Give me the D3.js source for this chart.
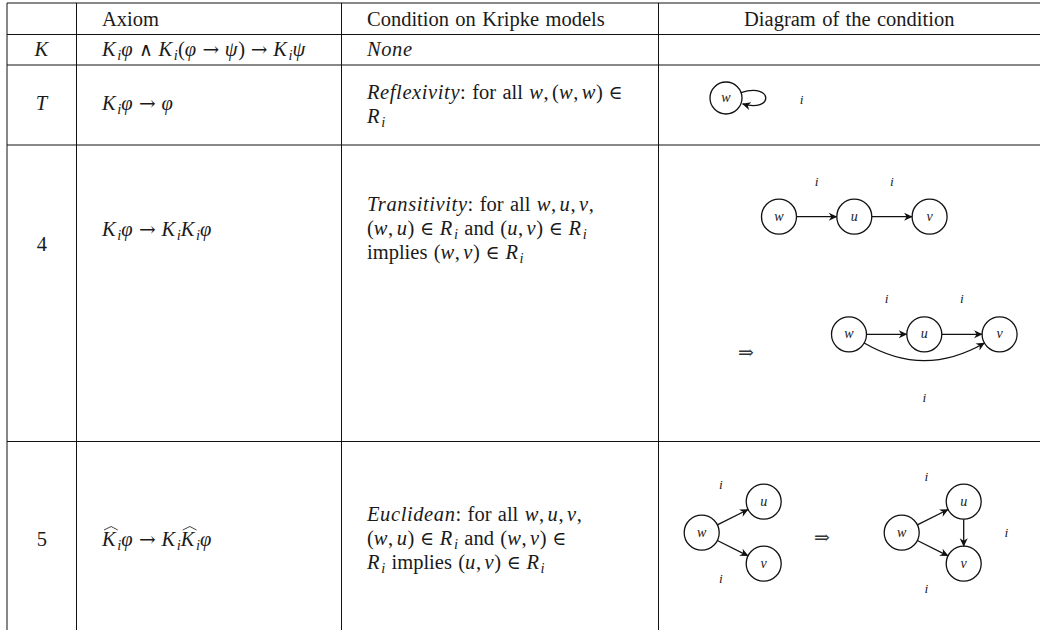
<!DOCTYPE html>
<html>
<head>
<meta charset="utf-8">
<script src="https://cdn.jsdelivr.net/npm/d3@7"></script>
<style>
body { margin: 0; background: #fff; }
svg text { font-family: "Liberation Serif", "DejaVu Serif", serif; fill: #1a1a1a; }
</style>
</head>
<body>
<svg id="c"></svg>
<script>
// table content
var headers = ["", "Axiom", "Condition on Kripke models", "Diagram of the condition"];
var rowLabels = ["K", "T", "4", "5"];
var axioms = [
	"$K_iφ ∧ K_i(φ → ψ) → K_iψ$",
	"$K_iφ → φ$",
	"$K_iφ → K_iK_iφ$",
	"$^K_iφ → K_i^K_iφ$"
];
var conditions = [
	["$None$"],
	["$Reflexivity$: for all $w, (w, w) ∈$", "$R_i$"],
	["$Transitivity$: for all $w, u, v,$", "$(w, u) ∈ R_i$ and $(u, v) ∈ R_i$", "implies $(w, v) ∈ R_i$"],
	["$Euclidean$: for all $w, u, v,$", "$(w, u) ∈ R_i$ and $(w, v) ∈$", "$R_i$ implies $(u, v) ∈ R_i$"]
];

// diagrams (grid units)
var reflNodes = [{id: "w", gx: 0, gy: 0}];
var reflEdges = [{s: "w", t: "w", loop: true}];
var reflLabels = [{t: "i", gx: 1.005, gy: 0.03}];

var transNodes = [{id: "w", gx: 0, gy: 0}, {id: "u", gx: 1, gy: 0}, {id: "v", gx: 2, gy: 0}];
var transEdges = [{s: "w", t: "u"}, {s: "u", t: "v"}];
var transLabels = [{t: "i", gx: 0.5, gy: -0.465}, {t: "i", gx: 1.5, gy: -0.465}];

var transClosedEdges = [{s: "w", t: "u"}, {s: "u", t: "v"}, {s: "w", t: "v", bend: 30}];
var transClosedLabels = [{t: "i", gx: 0.5, gy: -0.465}, {t: "i", gx: 1.5, gy: -0.465}, {t: "i", gx: 1, gy: 0.85}];

var eucNodes = [{id: "w", gx: 0, gy: 0}, {id: "u", gx: 1, gy: -0.5}, {id: "v", gx: 1, gy: 0.5}];
var eucEdges = [{s: "w", t: "u"}, {s: "w", t: "v"}];
var eucLabels = [{t: "i", gx: 0.31, gy: -0.77}, {t: "i", gx: 0.31, gy: 0.75}];

var eucClosedEdges = [{s: "w", t: "u"}, {s: "w", t: "v"}, {s: "u", t: "v"}];
var eucClosedLabels = [{t: "i", gx: 0.4, gy: -0.9}, {t: "i", gx: 0.4, gy: 0.9}, {t: "i", gx: 1.69, gy: 0.01}];

// layout
var width = 1040, height = 630;
var FS = 20.5, LH = 24, PAD = 25.5;
var colX = [7, 76.5, 341.5, 658.5];
var rowY = [3, 34.5, 65, 145, 441.5];
var headBase = 26;
var rowBase = [
	{label: 56, axiom: 56, cond: 56},
	{label: 110, axiom: 110, cond: 99},
	{label: 251, axiom: 236, cond: 211},
	{label: 546, axiom: 546, cond: 521}
];

var svg = d3.select("#c")
	.attr("width", width)
	.attr("height", height);

svg.append("defs").append("marker")
	.attr("id", "arr")
	.attr("markerUnits", "userSpaceOnUse")
	.attr("viewBox", "-9 -5 10 10")
	.attr("refX", 0).attr("refY", 0)
	.attr("markerWidth", 10).attr("markerHeight", 10)
	.attr("orient", "auto")
	.append("path")
	.attr("d", "M0.5,0 L-8,-4 L-5.5,0 L-8,4 Z")
	.attr("fill", "#111");

// grid lines
var grid = svg.append("g").attr("stroke", "#111").attr("stroke-width", 1);
colX.forEach(function(x) {
	grid.append("line").attr("x1", x).attr("x2", x).attr("y1", rowY[0]).attr("y2", height);
});
rowY.forEach(function(y) {
	grid.append("line").attr("x1", colX[0]).attr("x2", width).attr("y1", y).attr("y2", y);
});

// tiny math-ish text layout
function parse(str) {
	var items = [], math = false, i = 0;
	while (i < str.length) {
		var ch = str[i];
		if (ch === "$") { math = !math; i++; continue; }
		if (ch === " ") {
			var prev = str[i - 1];
			items.push({sp: true, w: math ? (prev === "," ? 0.167 : 0.278) : 0.31});
			i++; continue;
		}
		if (math && ch === "_") { items.push({t: str[i + 1], st: "sub"}); i += 2; continue; }
		if (math && ch === "^") { items.push({t: str[i + 1], st: "hat"}); i += 2; continue; }
		var st = "rm";
		if (math && /[A-Za-z\u03b1-\u03c9]/.test(ch)) st = "it";
		else if (/[→∧∈]/.test(ch)) st = "op";
		var last = items[items.length - 1];
		if (last && !last.sp && last.st === st && st !== "op") last.t += ch;
		else items.push({t: ch, st: st});
		i++;
	}
	return items;
}

var opSize = {"→": 20, "∧": 19, "∈": 19};

function drawLine(g, x, y, str, opt) {
	opt = opt || {};
	var items = parse(str);
	var total = 0;
	items.forEach(function(it) {
		if (it.sp) { it.w = it.w * FS; }
		else {
			var t = g.append("text")
				.attr("y", y + (it.st === "sub" ? 3.5 : 0))
				.text(it.t);
			if (it.st === "sub") t.style("font-size", "14.5px").style("font-style", "italic");
			else if (it.st === "op") t.style("font-size", opSize[it.t] + "px").style("font-family", "DejaVu Serif");
			else t.style("font-size", FS + "px").style("font-style", it.st === "rm" ? "normal" : "italic");
			if (it.st === "it" || it.st === "hat") t.style("letter-spacing", "0.6px");
			it.el = t;
			it.w = t.node().getComputedTextLength();
			if (it.st === "sub") it.kern = 1;
		}
		total += it.w + (it.kern || 0);
	});
	if (opt.center) x = opt.center - total / 2;
	var cx = x;
	items.forEach(function(it) {
		if (it.sp) { cx += it.w; return; }
		cx += it.kern || 0;
		it.el.attr("x", cx);
		if (it.st === "hat") {
			g.append("path")
				.attr("d", "M" + (cx + 2) + "," + (y - 16) + " L" + (cx + it.w / 2 + 2) + "," + (y - 19.5) + " L" + (cx + it.w + 1.5) + "," + (y - 16))
				.attr("fill", "none").attr("stroke", "#111").attr("stroke-width", 0.8);
		}
		cx += it.w;
	});
	return total;
}

var txt = svg.append("g");

// header
drawLine(txt, colX[1] + PAD, headBase, headers[1]);
drawLine(txt, colX[2] + PAD, headBase, headers[2]);
drawLine(txt, 0, headBase, headers[3], {center: (colX[3] + width) / 2});

rowLabels.forEach(function(lab, r) {
	var b = rowBase[r];
	var isMath = /[A-Z]/.test(lab);
	drawLine(txt, 0, b.label, isMath ? "$" + lab + "$" : lab, {center: (colX[0] + colX[1]) / 2});
	drawLine(txt, colX[1] + PAD, b.axiom, axioms[r]);
	conditions[r].forEach(function(l, k) {
		drawLine(txt, colX[2] + PAD, b.cond + k * LH, l);
	});
});

// diagrams
function drawDiagram(ox, oy, unit, r, nodes, edges, labels) {
	var xs = d3.scaleLinear().domain([0, 1]).range([ox, ox + unit]);
	var ys = d3.scaleLinear().domain([0, 1]).range([oy, oy + unit]);
	var g = svg.append("g");
	var pos = {};
	nodes.forEach(function(n) { pos[n.id] = [xs(n.gx), ys(n.gy)]; });

	edges.forEach(function(e) {
		var a = pos[e.s], b = pos[e.t], d;
		if (e.loop) {
			var s0 = -20 * Math.PI / 180, s1 = 20 * Math.PI / 180;
			var p0 = [a[0] + r * Math.cos(s0), a[1] + r * Math.sin(s0)];
			var p1 = [a[0] + r * Math.cos(s1) + 1.5, a[1] + r * Math.sin(s1) + 0.5];
			d = "M" + p0 + " C" + [p0[0] + 33, p0[1] - 10] + " " + [p1[0] + 31, p1[1] + 9] + " " + p1;
		} else {
			var ang = Math.atan2(b[1] - a[1], b[0] - a[0]);
			var bend = (e.bend || 0) * Math.PI / 180;
			var p0 = [a[0] + r * Math.cos(ang + bend), a[1] + r * Math.sin(ang + bend)];
			var p1 = [b[0] + r * Math.cos(ang + Math.PI - bend), b[1] + r * Math.sin(ang + Math.PI - bend)];
			if (bend) {
				var L = 0.3915 * Math.hypot(p1[0] - p0[0], p1[1] - p0[1]);
				var c0 = [p0[0] + L * Math.cos(ang + bend), p0[1] + L * Math.sin(ang + bend)];
				var c1 = [p1[0] + L * Math.cos(ang + Math.PI - bend), p1[1] + L * Math.sin(ang + Math.PI - bend)];
				d = "M" + p0 + " C" + c0 + " " + c1 + " " + p1;
			} else {
				d = "M" + p0 + " L" + p1;
			}
		}
		g.append("path")
			.attr("d", d)
			.attr("fill", "none")
			.attr("stroke", "#111")
			.attr("stroke-width", 1.3)
			.attr("marker-end", "url(#arr)");
	});

	g.selectAll("circle")
		.data(nodes)
		.enter()
		.append("circle")
		.attr("cx", function(n) { return xs(n.gx); })
		.attr("cy", function(n) { return ys(n.gy); })
		.attr("r", r)
		.attr("fill", "none")
		.attr("stroke", "#111")
		.attr("stroke-width", 1.3);

	g.selectAll(".nl")
		.data(nodes)
		.enter()
		.append("text")
		.attr("class", "nl")
		.attr("x", function(n) { return xs(n.gx); })
		.attr("y", function(n) { return ys(n.gy) + 4; })
		.attr("text-anchor", "middle")
		.style("font-size", "14px")
		.style("font-style", "italic")
		.text(function(n) { return n.id; });

	g.selectAll(".el")
		.data(labels)
		.enter()
		.append("text")
		.attr("class", "el")
		.attr("x", function(l) { return xs(l.gx); })
		.attr("y", function(l) { return ys(l.gy) + 4; })
		.attr("text-anchor", "middle")
		.style("font-size", "13.5px")
		.style("font-style", "italic")
		.text(function(l) { return l.t; });
	return {xs: xs, ys: ys};
}

function implies(x, y) {
	svg.append("text")
		.attr("x", x).attr("y", y + 6)
		.attr("text-anchor", "middle")
		.style("font-family", "DejaVu Serif")
		.style("font-size", "19px")
		.style("fill", "#333")
		.text("⇒");
}

drawDiagram(726, 98, 75.3, 16, reflNodes, reflEdges, reflLabels);
drawDiagram(779, 216.7, 75.3, 17.5, transNodes, transEdges, transLabels);
var tc = drawDiagram(849, 334.3, 75.3, 17.5, transNodes, transClosedEdges, transClosedLabels);
implies(tc.xs(-1.37), tc.ys(0.25));
var el = drawDiagram(701.7, 532.7, 62, 17.5, eucNodes, eucEdges, eucLabels);
implies(el.xs(1.94), el.ys(0.09));
drawDiagram(901.7, 532.7, 62, 17.5, eucNodes, eucClosedEdges, eucClosedLabels);
</script>
</body>
</html>
